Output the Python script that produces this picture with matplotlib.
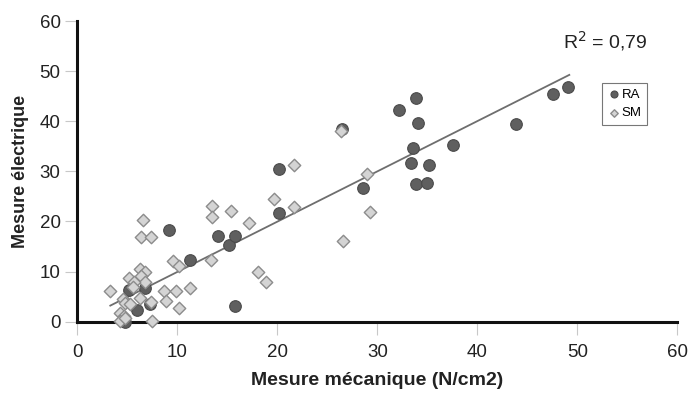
import matplotlib
matplotlib.use("Agg")
import matplotlib.pyplot as plt
import numpy as np

plt.rcParams['font.family'] = ['Liberation Sans', 'DejaVu Sans']

ra_x = [4.8, 5.2, 6.0, 6.8, 7.3, 9.2, 11.3, 14.1, 15.2, 15.8, 15.8, 20.2, 20.2, 26.5,
        28.6, 32.2, 33.4, 33.6, 33.9, 33.9, 34.1, 35.0, 35.2, 37.6, 43.9, 47.6, 49.1]
ra_y = [0.0, 6.4, 2.4, 6.7, 3.5, 18.2, 12.3, 17.1, 15.4, 17.1, 3.2, 21.6, 30.5, 38.5,
        26.7, 42.3, 31.7, 34.6, 27.5, 44.6, 39.6, 27.7, 31.3, 35.2, 39.5, 45.5, 46.9]

sm_x = [26.4, 21.7, 29.0, 29.3, 26.6, 19.7, 21.7, 13.5, 15.4, 13.5, 17.2, 6.6, 6.4, 7.4,
        13.4, 9.6, 10.2, 18.1, 18.9, 11.3, 8.7, 9.9, 8.9, 10.2, 3.3, 6.3, 6.8, 6.4, 6.8,
        5.2, 5.7, 5.6, 6.3, 4.6, 4.8, 5.3, 7.4, 4.3, 4.7, 4.3, 4.8, 7.5]
sm_y = [38.0, 31.2, 29.4, 21.9, 16.1, 24.5, 22.8, 23.0, 22.1, 20.8, 19.7, 20.2, 16.9, 17.0,
        12.3, 12.2, 11.2, 10.0, 7.9, 6.7, 6.1, 6.1, 4.1, 2.7, 6.1, 10.5, 10.0, 9.1, 8.0,
        8.7, 8.0, 6.9, 4.8, 4.5, 3.8, 3.5, 4.0, 1.8, 1.1, 0.1, 0.7, 0.1]

trend_slope = 1.003
trend_intercept = -0.1
trend_range = [3.3, 49.2]
r2_label = "R$^2$ = 0,79"

x_ticks = [0, 10, 20, 30, 40, 50, 60]
y_ticks = [0, 10, 20, 30, 40, 50, 60]

fig = plt.figure(figsize=(6.89, 3.93), dpi=100)
ax = fig.add_axes([77.3 / 689, (393 - 321.7) / 393, 600 / 689, 300.7 / 393])

ax.scatter(ra_x, ra_y, marker='o', s=70, facecolor='#5f5f5f', edgecolor='#4a4a4a',
           linewidth=0.8, zorder=3, label='RA')
ax.scatter(sm_x, sm_y, marker='D', s=40, facecolor='#d4d4d4', edgecolor='#8c8c8c',
           linewidth=1.0, zorder=4, label='SM')

tx = np.array(trend_range)
ax.plot(tx, trend_slope * tx + trend_intercept, color='#6e6e6e', linewidth=1.3, zorder=2)

ax.set_xlim(0, 60)
ax.set_ylim(0, 60)
ax.set_xticks(x_ticks)
ax.set_yticks(y_ticks)
ax.tick_params(axis='both', labelsize=13.5, color='#c8c8c8', length=9, width=0.8,
               labelcolor='#222222')
ax.tick_params(axis='x', pad=7)
ax.tick_params(axis='y', pad=3)
for s in ['top', 'right']:
    ax.spines[s].set_visible(False)
for s in ['left', 'bottom']:
    ax.spines[s].set_linewidth(2.2)
    ax.spines[s].set_color('#111111')
for c in ax.collections:
    c.set_clip_on(False)

ax.set_xlabel('Mesure mécanique (N/cm2)', fontsize=14, fontweight='bold', labelpad=8,
              color='#222222')
ax.set_ylabel('Mesure électrique', fontsize=13, fontweight='bold', labelpad=8,
              color='#222222')

ax.text(563 / 689, 1 - 41 / 393, r2_label, transform=fig.transFigure, fontsize=14,
        va='center', ha='left', color='#222222')

leg = ax.legend(loc='upper left', bbox_to_anchor=((602 - 77.3) / 600, (321.7 - 83) / 300.7),
                fontsize=9.5, frameon=True, fancybox=False, handletextpad=0.1,
                handlelength=1.0, borderpad=0.4, labelspacing=0.5, markerscale=0.6,
                borderaxespad=0)
leg.get_frame().set_edgecolor('#555555')
leg.get_frame().set_linewidth(0.8)

fig.savefig('out.png', dpi=100)
